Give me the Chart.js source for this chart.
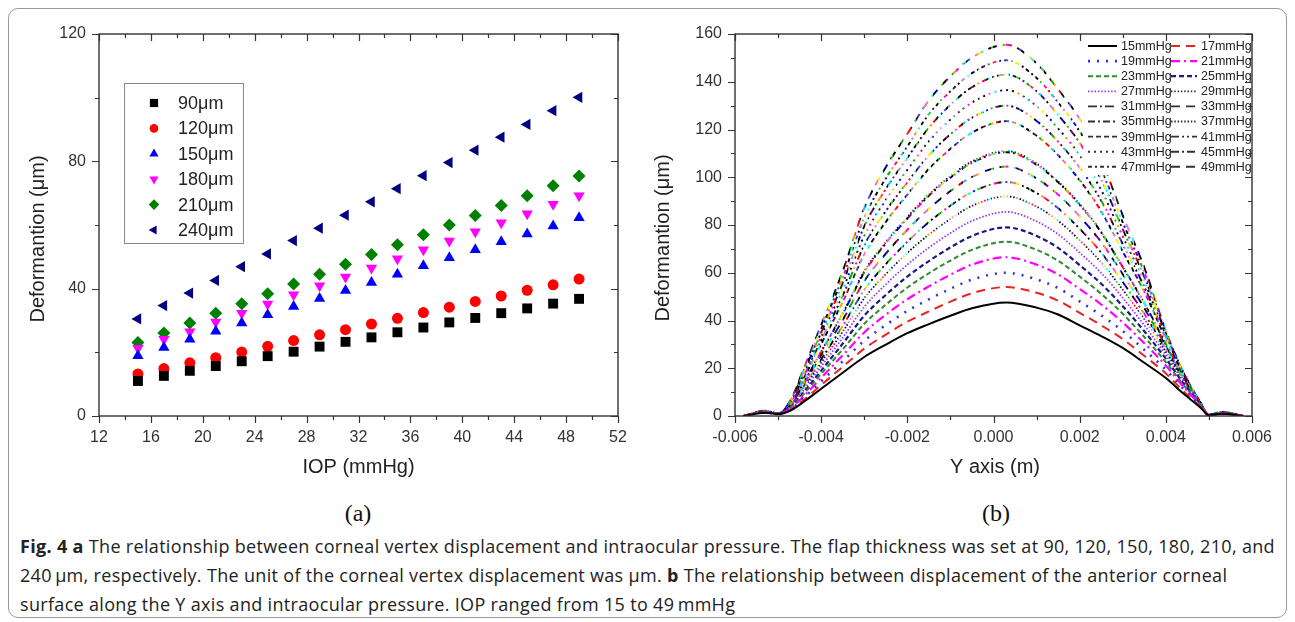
<!DOCTYPE html>
<html lang="en">
<head>
<meta charset="UTF-8">
<title>Fig. 4</title>
<script src="https://cdn.jsdelivr.net/npm/chart.js@4.4.0/dist/chart.umd.min.js"></script>
<style>
  body { margin: 0; background: #fff; width: 1295px; height: 622px; position: relative; overflow: hidden; }
  #frame { position: absolute; left: 8px; top: 8px; width: 1277px; height: 608px; border: 1px solid #999; border-radius: 10px; }
  #left { position: absolute; left: 0; top: 0; }
  #right { position: absolute; left: 650px; top: 0; }
  .sub { position: absolute; top: 499px; font-family: 'Liberation Serif', serif; font-size: 24px; line-height: 28px; color: #111; transform: translateX(-50%); }
  #caption { position: absolute; left: 20px; top: 532px; font-family: 'Open Sans', sans-serif; font-size: 18px; line-height: 29px; color: #222; white-space: nowrap; }
  #caption span { display: block; }
</style>
</head>
<body>
<div id="frame"></div>
<canvas id="left" width="650" height="490"></canvas>
<canvas id="right" width="645" height="490"></canvas>
<div class="sub" style="left:358px">(a)</div>
<div class="sub" style="left:996px">(b)</div>
<div id="caption"><span id="cap1"><b>Fig. 4 a</b> The relationship between corneal vertex displacement and intraocular pressure. The flap thickness was set at 90, 120, 150, 180, 210, and</span><span>240&#8201;μm, respectively. The unit of the corneal vertex displacement was μm. <b>b</b> The relationship between displacement of the anterior corneal</span><span>surface along the Y axis and intraocular pressure. IOP ranged from 15 to 49&#8201;mmHg</span></div>
<script>
// ---- (a) vertex displacement vs IOP ----
const iop = [15, 17, 19, 21, 23, 25, 27, 29, 31, 33, 35, 37, 39, 41, 43, 45, 47, 49];
const flapLabels = ['90μm', '120μm', '150μm', '180μm', '210μm', '240μm'];
const d90  = [11.0, 12.6, 14.2, 15.7, 17.2, 18.8, 20.2, 21.8, 23.3, 24.7, 26.3, 27.8, 29.4, 30.8, 32.3, 33.8, 35.3, 36.8];
const d120 = [13.2, 14.9, 16.7, 18.3, 20.1, 21.9, 23.7, 25.5, 27.1, 28.9, 30.7, 32.5, 34.2, 36.0, 37.7, 39.5, 41.2, 43.0];
const d150 = [18.9, 21.5, 24.1, 26.6, 29.2, 31.8, 34.4, 36.9, 39.4, 41.9, 44.5, 47.2, 49.7, 52.2, 54.7, 57.2, 59.7, 62.3];
const d180 = [21.3, 24.1, 26.5, 29.5, 32.3, 35.2, 38.1, 40.9, 43.7, 46.5, 49.4, 52.2, 55.0, 57.9, 60.7, 63.5, 66.5, 69.2];
const d210 = [23.1, 26.1, 29.2, 32.3, 35.3, 38.4, 41.5, 44.5, 47.7, 50.7, 53.8, 56.9, 60.0, 63.0, 66.1, 69.2, 72.3, 75.4];
const d240 = [30.5, 34.7, 38.6, 42.6, 46.9, 50.9, 55.1, 59.0, 63.1, 67.3, 71.4, 75.5, 79.6, 83.5, 87.6, 91.6, 95.9, 100.1];

// ---- (b) deformation along Y axis ----
const yPos = [-0.0058, -0.0053, -0.005, -0.0047, -0.0044, -0.004, -0.0035, -0.003, -0.0025, -0.002, -0.0015, -0.001, -0.0005,
  0.0003, 0.001, 0.0015, 0.002, 0.0025, 0.003, 0.0035, 0.004, 0.0044, 0.0048, 0.005, 0.0053, 0.0058];
const pressures = [15, 17, 19, 21, 23, 25, 27, 29, 31, 33, 35, 37, 39, 41, 43, 45, 47, 49];
const p15 = [0, 1.4, 0.8, 2.4, 6.0, 11.4, 18.1, 24.7, 29.9, 34.7, 38.5, 42.0, 45.1, 47.5, 45.4, 42.5, 38.0, 33.5, 28.5, 22.3, 15.9, 9.5, 3.6, 0.3, 0.9, 0];
const p17 = [0, 1.5, 0.8, 2.7, 6.8, 13.0, 20.6, 28.2, 34.1, 39.5, 43.8, 47.9, 51.4, 54.0, 51.6, 48.3, 43.2, 38.0, 32.2, 25.2, 17.8, 10.5, 3.9, 0.3, 1.0, 0];
const p19 = [0, 1.5, 0.8, 2.9, 7.6, 14.5, 22.9, 31.5, 38.1, 44.0, 48.9, 53.3, 57.1, 60.0, 57.2, 53.6, 48.0, 42.2, 35.6, 27.7, 19.4, 11.5, 4.2, 0.3, 1.0, 0];
const p21 = [0, 1.6, 0.8, 3.3, 8.4, 16.0, 25.4, 35.0, 42.4, 48.9, 54.3, 59.2, 63.4, 66.5, 63.4, 59.3, 53.2, 46.7, 39.2, 30.5, 21.1, 12.4, 4.5, 0.3, 1.1, 0];
const p23 = [0, 1.6, 0.9, 3.6, 9.3, 17.6, 27.9, 38.6, 46.6, 53.8, 59.8, 65.1, 69.6, 73.0, 69.6, 65.0, 58.4, 51.2, 42.8, 33.1, 22.6, 13.2, 4.8, 0.3, 1.1, 0];
const p25 = [0, 1.7, 0.9, 3.9, 10.0, 19.0, 30.3, 42.0, 50.7, 58.4, 64.9, 70.6, 75.4, 79.0, 75.4, 70.4, 63.2, 55.4, 46.0, 35.5, 24.0, 13.9, 5.0, 0.3, 1.2, 0];
const p27 = [0, 1.7, 0.9, 4.1, 10.9, 20.7, 32.8, 45.7, 55.1, 63.4, 70.5, 76.6, 81.7, 85.5, 81.5, 76.1, 68.4, 59.9, 49.5, 38.0, 25.5, 14.7, 5.2, 0.3, 1.2, 0];
const p29 = [0, 1.8, 0.9, 4.4, 11.8, 22.3, 35.3, 49.3, 59.4, 68.3, 76.0, 82.5, 88.0, 92.0, 87.7, 81.8, 73.6, 64.3, 52.9, 40.6, 26.9, 15.4, 5.4, 0.4, 1.3, 0];
const p31 = [0, 1.8, 1.0, 4.7, 12.5, 23.7, 37.7, 52.8, 63.6, 72.9, 81.2, 88.1, 93.8, 98.0, 93.4, 87.0, 78.4, 68.4, 56.1, 42.8, 28.0, 15.9, 5.5, 0.4, 1.3, 0];
const p33 = [0, 1.9, 1.0, 4.9, 13.4, 25.4, 40.2, 56.5, 68.0, 78.0, 86.8, 94.2, 100.1, 104.5, 99.5, 92.7, 83.6, 72.8, 59.4, 45.2, 29.2, 16.5, 5.6, 0.4, 1.4, 0];
const p35 = [0, 1.9, 1.0, 5.2, 14.1, 26.9, 42.7, 60.1, 72.3, 82.7, 92.2, 99.8, 106.0, 110.5, 105.2, 97.9, 88.4, 76.9, 62.4, 47.4, 30.2, 16.9, 5.6, 0.4, 1.4, 0];
const p37 = [0, 1.9, 1.0, 5.2, 14.3, 27.0, 43.0, 60.6, 72.8, 83.3, 92.8, 100.5, 106.6, 111.0, 105.7, 98.2, 88.8, 77.1, 62.3, 47.2, 29.6, 16.4, 5.4, 0.4, 1.4, 0];
const p39 = [0, 2.0, 1.0, 5.7, 15.9, 30.1, 47.8, 67.7, 81.3, 92.7, 103.5, 111.9, 118.7, 123.5, 117.4, 109.2, 98.8, 85.7, 68.9, 52.0, 32.2, 17.8, 5.8, 0.4, 1.5, 0];
const p41 = [0, 2.0, 1.1, 6.0, 16.8, 31.7, 50.4, 71.5, 85.8, 97.9, 109.2, 118.0, 124.9, 130.0, 123.6, 114.9, 104.0, 90.2, 72.0, 54.1, 33.2, 18.1, 5.7, 0.4, 1.5, 0];
const p43 = [0, 2.1, 1.1, 6.3, 17.6, 33.3, 53.0, 75.5, 90.5, 103.1, 115.1, 124.2, 131.3, 136.5, 129.8, 120.5, 109.2, 94.6, 75.2, 56.2, 33.9, 18.3, 5.7, 0.5, 1.6, 0];
const p45 = [0, 2.1, 1.1, 6.6, 18.6, 34.9, 55.6, 79.4, 95.1, 108.1, 120.8, 130.3, 137.7, 143.0, 136.0, 126.1, 114.4, 99.0, 78.2, 58.3, 34.6, 18.4, 5.7, 0.5, 1.6, 0];
const p47 = [0, 2.2, 1.1, 6.7, 19.4, 36.5, 58.0, 83.1, 99.5, 112.9, 126.4, 136.0, 143.6, 149.0, 141.6, 131.3, 119.2, 103.0, 81.1, 60.2, 35.2, 18.6, 5.5, 0.5, 1.7, 0];
const p49 = [0, 2.2, 1.2, 7.0, 20.2, 38.1, 60.6, 87.1, 104.2, 118.2, 132.2, 142.3, 150.1, 155.5, 147.7, 136.8, 124.4, 107.3, 84.0, 62.2, 35.8, 18.7, 5.4, 0.5, 1.7, 0];
const curves = [p15, p17, p19, p21, p23, p25, p27, p29, p31, p33, p35, p37, p39, p41, p43, p45, p47, p49];

Chart.defaults.font.family = "'Liberation Sans', Arial, sans-serif";
Chart.defaults.color = '#333';

// box frame with Origin-style ticks (outward bottom/left, inward top/right)
const frameTicks = {
  id: 'frameTicks',
  afterDraw(chart, args, o) {
    const { ctx, chartArea: a, scales: { x, y } } = chart;
    ctx.save();
    ctx.strokeStyle = '#333';
    ctx.lineWidth = 1.4;
    ctx.strokeRect(a.left, a.top, a.right - a.left, a.bottom - a.top);
    ctx.lineWidth = 1.2;
    ctx.beginPath();
    let n = Math.round((x.max - x.min) / o.xMinor);
    for (let i = 0; i <= n; i++) {
      const px = Math.round(x.getPixelForValue(x.min + i * o.xMinor)) + 0.5;
      const L = i % o.xEvery === 0 ? 7 : 4;
      ctx.moveTo(px, a.bottom); ctx.lineTo(px, a.bottom + L);
      ctx.moveTo(px, a.top); ctx.lineTo(px, a.top + L);
    }
    n = Math.round((y.max - y.min) / o.yMinor);
    for (let i = 0; i <= n; i++) {
      const py = Math.round(y.getPixelForValue(y.min + i * o.yMinor)) + 0.5;
      const L = i % o.yEvery === 0 ? 7 : 4;
      ctx.moveTo(a.left, py); ctx.lineTo(a.left - L, py);
      ctx.moveTo(a.right, py); ctx.lineTo(a.right - L, py);
    }
    ctx.stroke();
    ctx.restore();
  }
};

const axisTitles = {
  id: 'axisTitles',
  afterDraw(chart, args, o) {
    const ctx = chart.ctx;
    ctx.save();
    ctx.fillStyle = '#222';
    ctx.font = "20px 'Liberation Sans', Arial, sans-serif";
    ctx.textAlign = 'center';
    ctx.textBaseline = 'middle';
    ctx.fillText(o.x, o.xPos[0], o.xPos[1]);
    ctx.translate(o.yPos[0], o.yPos[1]);
    ctx.rotate(-Math.PI / 2);
    ctx.fillText(o.y, 0, 0);
    ctx.restore();
  }
};

const markerLegend = {
  id: 'markerLegend',
  afterDatasetsDraw(chart, args, o) {
    const ctx = chart.ctx;
    ctx.save();
    ctx.fillStyle = '#fff';
    ctx.fillRect(o.box[0], o.box[1], o.box[2], o.box[3]);
    ctx.strokeStyle = '#888';
    ctx.lineWidth = 1;
    ctx.strokeRect(o.box[0] + 0.5, o.box[1] + 0.5, o.box[2], o.box[3]);
    ctx.font = "18px 'Liberation Sans', Arial, sans-serif";
    ctx.textBaseline = 'middle';
    chart.data.datasets.forEach((ds, i) => {
      const yy = o.row0 + i * o.rowGap;
      ctx.fillStyle = ds.backgroundColor;
      ctx.strokeStyle = ds.backgroundColor;
      Chart.helpers.drawPoint(ctx, { pointStyle: ds.pointStyle, rotation: ds.rotation || 0, radius: ds.pointRadius - 1.2, borderWidth: 0 }, o.markX, yy);
      ctx.fillStyle = '#222';
      ctx.fillText(ds.label, o.textX, yy + 1);
    });
    ctx.restore();
  }
};

const markStyles = [
  { c: '#000000', s: 'rect', r: 7, rot: 0 },
  { c: '#ff0000', s: 'circle', r: 5.5, rot: 0 },
  { c: '#0000ff', s: 'triangle', r: 6.5, rot: 0 },
  { c: '#ff00ff', s: 'triangle', r: 6.5, rot: 180 },
  { c: '#008000', s: 'rectRot', r: 6.5, rot: 0 },
  { c: '#000080', s: 'triangle', r: 6.5, rot: -90 }
];
const flapData = [d90, d120, d150, d180, d210, d240];

new Chart(document.getElementById('left'), {
  type: 'scatter',
  data: {
    datasets: flapData.map((vals, i) => ({
      label: flapLabels[i],
      data: vals.map((v, j) => ({ x: iop[j], y: v })),
      pointStyle: markStyles[i].s,
      rotation: markStyles[i].rot,
      pointRotation: markStyles[i].rot,
      pointRadius: markStyles[i].r,
      backgroundColor: markStyles[i].c,
      borderColor: markStyles[i].c,
      borderWidth: 0
    }))
  },
  options: {
    responsive: false,
    animation: false,
    layout: { padding: { top: 34, right: 32, left: 0, bottom: 0 } },
    plugins: {
      legend: { display: false },
      tooltip: { enabled: false },
      frameTicks: { xMinor: 2, xEvery: 2, yMinor: 20, yEvery: 2 },
      axisTitles: { x: 'IOP (mmHg)', xPos: [358.5, 467], y: 'Deformantion (μm)', yPos: [38, 239] },
      markerLegend: { box: [124, 83, 119, 160], markX: 154, textX: 178, row0: 103, rowGap: 25.4 }
    },
    scales: {
      x: {
        type: 'linear', min: 12, max: 52,
        ticks: { stepSize: 4, padding: 12, font: { size: 16 } },
        grid: { display: false, drawTicks: false },
        border: { display: false },
        afterFit(s) { s.height = 74; }
      },
      y: {
        min: 0, max: 120,
        ticks: { stepSize: 40, padding: 13, font: { size: 16 } },
        grid: { display: false, drawTicks: false },
        border: { display: false },
        afterFit(s) { s.width = 99; }
      }
    }
  },
  plugins: [frameTicks, axisTitles, markerLegend]
});

// line styles of the 18 pressure curves; "mix" = multicoloured dashes
const lineStyles = [
  { c: '#000000', d: [], w: 2 },
  { c: '#ee2222', d: [9, 6], w: 2 },
  { c: '#3333dd', d: [2, 7], w: 2.6 },
  { c: '#ff00ff', d: [9, 4, 2, 4], w: 2.2 },
  { c: '#2e8b2e', d: [5, 3], w: 2 },
  { c: '#1a1a80', d: [5, 3], w: 2.2 },
  { c: '#9933ff', d: [1.5, 1.8], w: 1.8 },
  { c: '#555555', d: [1.5, 1.8], w: 1.8, mix: true },
  { c: '#222222', d: [9, 3, 2, 3], w: 1.9, mix: true },
  { c: '#222222', d: [9, 6], w: 1.9, mix: true },
  { c: '#222222', d: [7, 3, 2, 3], w: 1.9, mix: true },
  { c: '#555555', d: [1.5, 1.8], w: 1.9, mix: true },
  { c: '#222222', d: [5, 3], w: 1.9, mix: true },
  { c: '#222222', d: [8, 3, 2, 3, 2, 3], w: 1.9, mix: true },
  { c: '#222222', d: [2, 4], w: 1.9, mix: true },
  { c: '#222222', d: [8, 3, 2, 3], w: 1.9, mix: true },
  { c: '#222222', d: [4, 3, 2, 3], w: 1.9, mix: true },
  { c: '#222222', d: [9, 6], w: 1.9, mix: true }
];
const mixColors = ['#000000', '#ff00ff', '#00ccff', '#000000', '#ffee00', '#0000ff', '#000000', '#00aa00', '#ff0000',
  '#222222', '#999999', '#00ffff', '#000000', '#800080', '#ff9900', '#111111', '#4444ff', '#ff66cc', '#000000', '#33cc33'];
const stripeCache = {};
function stripes(chart, k) {
  const a = chart.chartArea;
  if (!a) return '#222';
  if (!stripeCache[k]) {
    const g = chart.ctx.createLinearGradient(a.left, 0, a.right, 0);
    const n = Math.floor((a.right - a.left) / 2.5);
    for (let i = 0; i < n; i++) {
      const c = mixColors[(i * 7 + k * 5) % mixColors.length];
      g.addColorStop(i / n, c);
      g.addColorStop(Math.min(1, (i + 1) / n - 0.0001), c);
    }
    stripeCache[k] = g;
  }
  return stripeCache[k];
}

const lineLegend = {
  id: 'lineLegend',
  afterDatasetsDraw(chart, args, o) {
    const ctx = chart.ctx;
    ctx.save();
    ctx.fillStyle = '#fff';
    ctx.fillRect(o.box[0], o.box[1], o.box[2], o.box[3]);
    ctx.font = "12.5px 'Liberation Sans', Arial, sans-serif";
    ctx.textBaseline = 'middle';
    pressures.forEach((p, i) => {
      const col = i % 2, row = Math.floor(i / 2);
      const yy = o.row0 + row * o.rowGap;
      const st = lineStyles[i];
      ctx.strokeStyle = st.mix ? '#333' : st.c;
      ctx.lineWidth = st.w;
      ctx.setLineDash(st.d);
      ctx.beginPath();
      ctx.moveTo(o.lineX[col][0], yy);
      ctx.lineTo(o.lineX[col][1], yy);
      ctx.stroke();
      ctx.setLineDash([]);
      ctx.fillStyle = '#222';
      ctx.fillText(p + 'mmHg', o.textX[col], yy + 0.5);
    });
    ctx.restore();
  }
};

new Chart(document.getElementById('right'), {
  type: 'scatter',
  data: {
    datasets: curves.map((vals, k) => ({
      label: pressures[k] + 'mmHg',
      data: vals.map((v, j) => ({ x: yPos[j], y: v })),
      showLine: true,
      pointRadius: 0,
      borderColor: lineStyles[k].mix ? (ctx) => stripes(ctx.chart, k) : lineStyles[k].c,
      borderDash: lineStyles[k].d,
      borderWidth: lineStyles[k].w,
      cubicInterpolationMode: 'monotone',
      tension: 0.4,
      fill: false
    }))
  },
  options: {
    responsive: false,
    animation: false,
    layout: { padding: { top: 34, right: 43, left: 0, bottom: 0 } },
    plugins: {
      legend: { display: false },
      tooltip: { enabled: false },
      frameTicks: { xMinor: 0.001, xEvery: 2, yMinor: 10, yEvery: 2 },
      axisTitles: { x: 'Y axis (m)', xPos: [345, 467], y: 'Deformantion (μm)', yPos: [13, 238] },
      lineLegend: {
        box: [433, 37, 168, 138], row0: 46, rowGap: 15.1,
        lineX: [[438, 467], [521, 547]], textX: [471, 551]
      }
    },
    scales: {
      x: {
        type: 'linear', min: -0.006, max: 0.006,
        ticks: { stepSize: 0.002, padding: 12, font: { size: 16 }, callback: (v) => Number(v).toFixed(3) },
        grid: { display: false, drawTicks: false },
        border: { display: false },
        afterFit(s) { s.height = 74; }
      },
      y: {
        min: 0, max: 160,
        ticks: { stepSize: 20, padding: 13, font: { size: 16 } },
        grid: { display: false, drawTicks: false },
        border: { display: false },
        afterFit(s) { s.width = 85; }
      }
    }
  },
  plugins: [frameTicks, axisTitles, lineLegend]
});

// stretch the caption so its first line spans the box like the original
const cap = document.getElementById('caption');
const line1 = document.getElementById('cap1');
const w = line1.getBoundingClientRect().width;
const range = document.createRange();
range.selectNodeContents(line1);
const textW = range.getBoundingClientRect().width;
const chars = line1.textContent.length;
cap.style.letterSpacing = ((1255 - textW) / chars).toFixed(3) + 'px';
</script>
</body>
</html>
